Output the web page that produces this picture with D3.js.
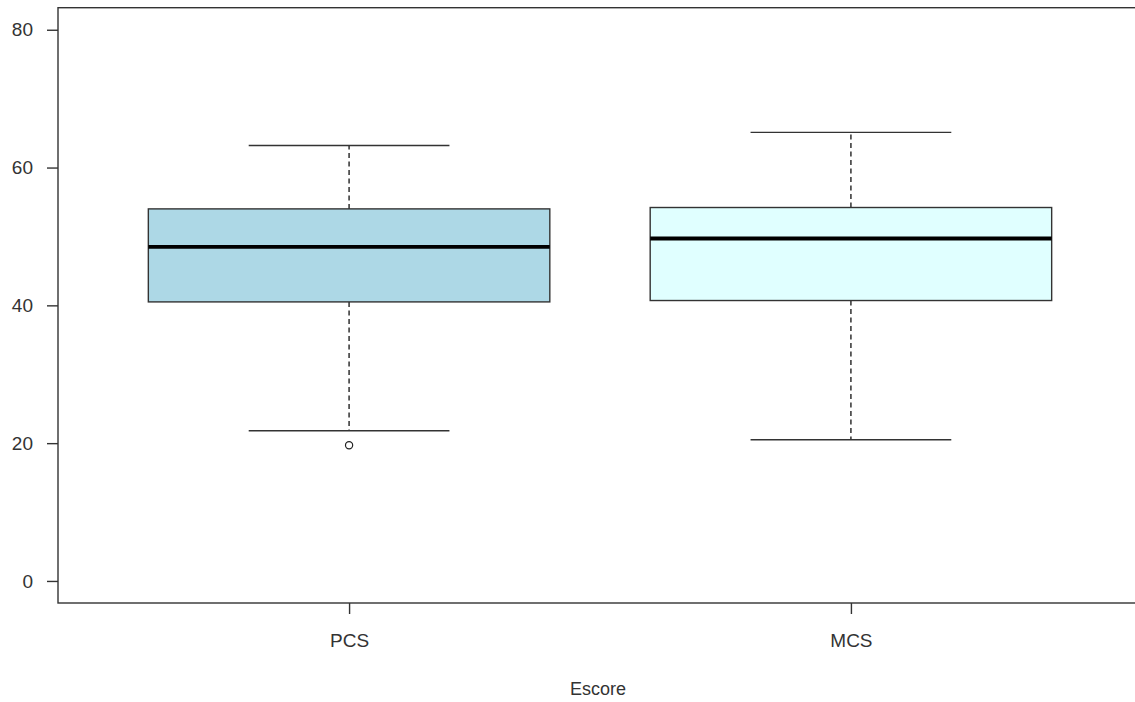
<!DOCTYPE html>
<html>
<head>
<meta charset="utf-8">
<script src="https://cdn.jsdelivr.net/npm/d3@7"></script>
<style>
  body { margin: 0; background: #fff; }
  svg { display: block; font-family: "Liberation Sans", Arial, sans-serif; }
</style>
</head>
<body>
<svg id="chart" width="1135" height="702"></svg>
<script>
// data
var categories = ["PCS", "MCS"];
var lowWhisker = [21.8, 20.5];
var q1 = [40.5, 40.7];
var median = [48.5, 49.7];
var q3 = [54.0, 54.2];
var highWhisker = [63.2, 65.1];
var outliers = [[19.7], []];
var fills = ["#ADD8E6", "#E0FFFF"];
var yTicks = [0, 20, 40, 60, 80];
var xTitle = "Escore";

var svg = d3.select("#chart");
var plotL = 58, plotT = 7.7, plotB = 603, plotR = 1142;

// R style: xlim 0.5..n+0.5 extended by 4%
var x = d3.scaleLinear().domain([0.42, 2.58]).range([plotL, plotR]);
var y = d3.scaleLinear().domain([-3.2, 83.2]).range([plotB, plotT]);

var boxes = categories.map(function(c, i) {
  return {name: c, pos: i + 1, lo: lowWhisker[i], q1: q1[i], med: median[i],
          q3: q3[i], hi: highWhisker[i], out: outliers[i], fill: fills[i]};
});

var g = svg.append("g");

g.selectAll(".whisk").data(boxes).enter().append("g").each(function(d) {
  var s = d3.select(this);
  // whiskers (dashed)
  s.append("line").attr("x1", x(d.pos)).attr("x2", x(d.pos))
    .attr("y1", y(d.q3)).attr("y2", y(d.hi))
    .attr("stroke", "#111").attr("stroke-width", 1.3).attr("stroke-dasharray", "5,3.5");
  s.append("line").attr("x1", x(d.pos)).attr("x2", x(d.pos))
    .attr("y1", y(d.q1)).attr("y2", y(d.lo))
    .attr("stroke", "#111").attr("stroke-width", 1.3).attr("stroke-dasharray", "5,3.5");
  // caps
  [d.lo, d.hi].forEach(function(v) {
    s.append("line").attr("x1", x(d.pos - 0.2)).attr("x2", x(d.pos + 0.2))
      .attr("y1", y(v)).attr("y2", y(v))
      .attr("stroke", "#333").attr("stroke-width", 1.4);
  });
  // box
  s.append("rect").attr("x", x(d.pos - 0.4)).attr("width", x(d.pos + 0.4) - x(d.pos - 0.4))
    .attr("y", y(d.q3)).attr("height", y(d.q1) - y(d.q3))
    .attr("fill", d.fill).attr("stroke", "#333").attr("stroke-width", 1.4);
  // median
  s.append("line").attr("x1", x(d.pos - 0.4)).attr("x2", x(d.pos + 0.4))
    .attr("y1", y(d.med)).attr("y2", y(d.med))
    .attr("stroke", "#000").attr("stroke-width", 3.8);
  // outliers
  s.selectAll("circle").data(d.out).enter().append("circle")
    .attr("cx", x(d.pos)).attr("cy", function(v) { return y(v); })
    .attr("r", 3.6).attr("fill", "none").attr("stroke", "#222").attr("stroke-width", 1.2);
});

// frame
svg.append("rect").attr("x", plotL).attr("y", plotT)
  .attr("width", plotR - plotL).attr("height", plotB - plotT)
  .attr("fill", "none").attr("stroke", "#333").attr("stroke-width", 1.4);

// y axis
var yAxis = svg.append("g").attr("transform", "translate(" + plotL + ",0)")
  .call(d3.axisLeft(y).tickValues(yTicks).tickSize(11).tickPadding(14));
yAxis.select(".domain").remove();
yAxis.selectAll("line").attr("stroke", "#333").attr("stroke-width", 1.4);
yAxis.selectAll("text").attr("fill", "#333").style("font-size", "19px")
  .style("font-family", "'Liberation Sans', Arial, sans-serif");

// x axis
var xAxis = svg.append("g").attr("transform", "translate(0," + plotB + ")")
  .call(d3.axisBottom(x).tickValues([1, 2]).tickFormat(function(d) { return categories[d - 1]; })
    .tickSize(11).tickPadding(20));
xAxis.select(".domain").remove();
xAxis.selectAll("line").attr("stroke", "#333").attr("stroke-width", 1.4);
xAxis.selectAll("text").attr("fill", "#333").style("font-size", "19px")
  .style("font-family", "'Liberation Sans', Arial, sans-serif");

svg.append("text").attr("x", x(1.5) - 2).attr("y", 695)
  .attr("text-anchor", "middle").attr("fill", "#333").style("font-size", "18px")
  .text(xTitle);
</script>
</body>
</html>
